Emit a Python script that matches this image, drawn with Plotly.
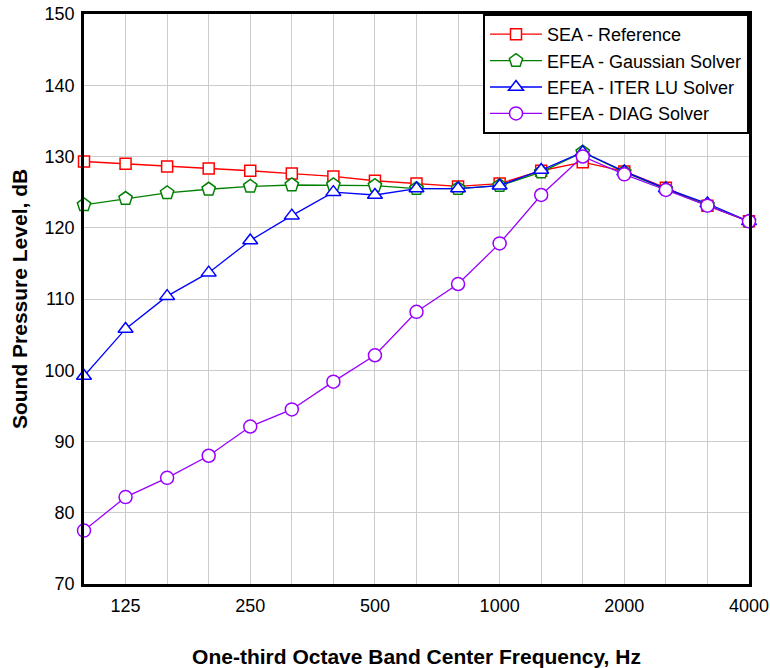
import plotly.graph_objects as go

freqs = ["100", "125", "160", "200", "250", "315", "400", "500", "630", "800",
         "1000", "1250", "1600", "2000", "2500", "3150", "4000"]
labeled = ["125", "250", "500", "1000", "2000", "4000"]

sea = [129.3, 129.0, 128.6, 128.3, 128.0, 127.6, 127.2, 126.6, 126.2, 125.8,
       126.2, 128.0, 129.2, 127.9, 125.6, 123.1, 120.9]
gauss = [123.2, 124.1, 124.9, 125.4, 125.8, 126.0, 126.0, 125.9, 125.5, 125.5,
         125.9, 127.8, 130.6, 127.8, 125.4, 123.2, 120.9]
iter_lu = [99.2, 105.8, 110.4, 113.7, 118.2, 121.7, 125.0, 124.6, 125.5, 125.5,
           125.9, 128.1, 130.6, 127.9, 125.5, 123.4, 120.9]
diag = [77.5, 82.2, 84.9, 88.0, 92.1, 94.5, 98.4, 102.1, 108.2, 112.1,
        117.8, 124.6, 130.0, 127.5, 125.3, 123.1, 120.9]

series = [
    ("SEA - Reference", sea, "#ff0000", "square", 11),
    ("EFEA - Gaussian Solver", gauss, "#008000", "pentagon", 14),
    ("EFEA - ITER LU Solver", iter_lu, "#0000ff", "triangle-up", 13),
    ("EFEA - DIAG Solver", diag, "#9900ff", "circle", 13),
]

x_idx = list(range(len(freqs)))

fig = go.Figure()
for name, vals, col, sym, sz in series:
    fig.add_trace(go.Scatter(
        x=x_idx, y=vals, name=name, mode="lines+markers",
        line=dict(color=col, width=1.3),
        marker=dict(symbol=sym, size=sz, color="white",
                    line=dict(color=col, width=1.5)),
        cliponaxis=False,
    ))

ticktext = [f if f in labeled else "" for f in freqs]

fig.update_layout(
    width=770, height=668,
    margin=dict(l=84, r=21, t=14, b=84),
    plot_bgcolor="white", paper_bgcolor="white",
    font=dict(family="Liberation Sans, Arial, sans-serif", size=18, color="black"),
    showlegend=True,
    legend=dict(x=1, y=1, xanchor="right", yanchor="top",
                bgcolor="white", bordercolor="black", borderwidth=2,
                font=dict(size=18), itemwidth=52, tracegroupgap=0),
    xaxis=dict(
        range=[0, len(freqs) - 1], automargin=False,
        tickmode="array", tickvals=x_idx, ticktext=ticktext,
        showgrid=True, gridcolor="#cccccc", gridwidth=1,
        showline=True, linecolor="black", linewidth=2.5, mirror=True,
        ticks="", zeroline=False, tickfont=dict(size=18), ticklabelstandoff=4,
        title=dict(text="<b>One-third Octave Band Center Frequency, Hz</b>",
                   font=dict(size=21), standoff=34),
    ),
    yaxis=dict(
        range=[70, 150], dtick=10, automargin=False,
        showgrid=True, gridcolor="#cccccc", gridwidth=1,
        showline=True, linecolor="black", linewidth=2.5, mirror=True,
        ticks="", zeroline=False, tickfont=dict(size=18), ticklabelstandoff=3,
        title=dict(text="<b>Sound Pressure Level, dB</b>",
                   font=dict(size=21), standoff=12),
    ),
)

fig.write_html("out.html")
